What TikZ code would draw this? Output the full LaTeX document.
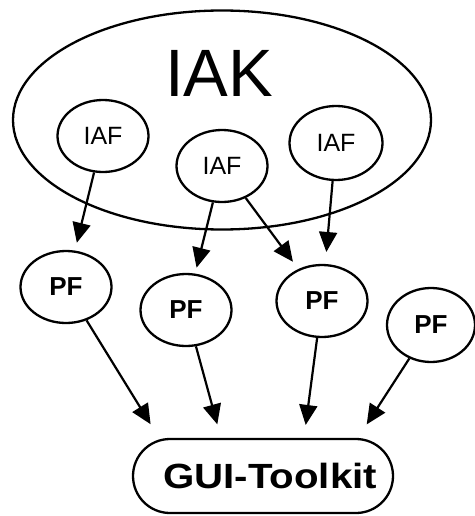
\documentclass[tikz,border=0pt]{standalone}
\usepackage{fontspec}
\setmainfont{Liberation Sans}
\usetikzlibrary{shapes.geometric,arrows.meta}

\tikzset{
  oval/.style={ellipse, draw, line width=2.3pt, inner sep=0pt},
  iafnode/.style={oval, minimum width=91pt, minimum height=72pt,
    font=\fontsize{25}{30}\selectfont},
  pfnode/.style={oval, minimum width=91pt, minimum height=72pt,
    font=\fontsize{26}{31}\selectfont\bfseries},
  guinode/.style={draw, line width=2.3pt, rounded corners=37pt, inner sep=0pt,
    minimum width=260pt, minimum height=74pt,
    font=\fontsize{35}{42}\selectfont\bfseries},
  arr/.style={line width=2.2pt, -{Triangle[length=20pt,width=18pt]}}
}

\begin{document}
\begin{tikzpicture}[x=1pt, y=-1pt]
  \useasboundingbox (0,0) rectangle (474,516);

  % outer IAK container
  \node[oval, minimum width=418pt, minimum height=219pt] (iak) at (222,120) {};
  \node[anchor=base, font=\fontsize{67}{70}\selectfont, inner sep=0pt] (iaklabel) at (219,97) {IAK};

  % IAF nodes inside the container
  \node[iafnode] (iaf1) at (103,136) {IAF};
  \node[iafnode] (iaf2) at (222,166) {IAF};
  \node[iafnode, minimum width=93pt, minimum height=74pt] (iaf3) at (336,143) {IAF};

  % PF nodes
  \node[pfnode] (pf1) at (66,287) {PF};
  \node[pfnode] (pf2) at (186,310) {PF};
  \node[pfnode] (pf3) at (322,301) {PF};
  \node[pfnode, minimum width=88pt, minimum height=74pt] (pf4) at (431,325) {PF};

  % toolkit
  \node[guinode] (gui) at (263,476) {\hspace*{14pt}\scalebox{1.15}[1]{GUI-Toolkit}};

  % IAF -> PF
  \draw[arr, shorten >=8pt] (iaf1) -- (pf1);
  \draw[arr, shorten >=6pt] (iaf2) -- (pf2);
  \draw[arr, shorten >=9pt] (iaf2) -- (pf3);
  \draw[arr, shorten >=12pt] (iaf3) -- (pf3);

  % PF -> toolkit
  \draw[arr, shorten >=16pt] (pf1) -- ([xshift=-104pt]gui.north);
  \draw[arr, shorten >=14pt] (pf2) -- ([xshift=-42pt]gui.north);
  \draw[arr, shorten >=13pt] (pf3) -- ([xshift=41pt]gui.north);
  \draw[arr, shorten >=16pt] (pf4) -- ([xshift=95pt]gui.north);
\end{tikzpicture}
\end{document}
